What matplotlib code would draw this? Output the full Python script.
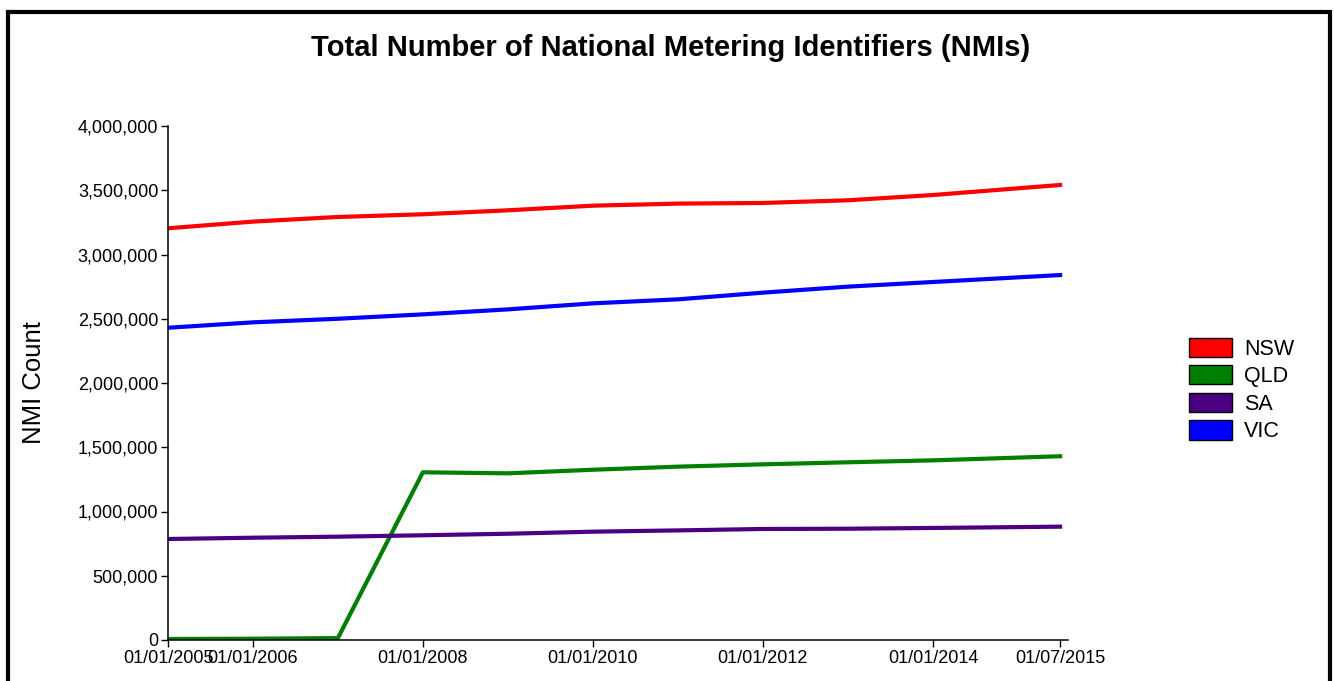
import pandas as pd
import matplotlib
matplotlib.use("Agg")
import matplotlib.pyplot as plt
import matplotlib.dates as mdates
from matplotlib.patches import Patch, Rectangle
from matplotlib.ticker import FuncFormatter

plt.rcParams['font.family'] = ['Liberation Sans', 'DejaVu Sans']

# --- DATA ---
dates = pd.to_datetime([
    "2005-01-01", "2006-01-01", "2007-01-01", "2008-01-01", "2009-01-01",
    "2010-01-01", "2011-01-01", "2012-01-01", "2013-01-01", "2014-01-01",
    "2015-07-01",
])
nsw = [3204000, 3256000, 3292000, 3313000, 3344000, 3380000,
       3396000, 3401000, 3422000, 3463000, 3541000]
qld = [8000, 10000, 15000, 1305000, 1297000, 1325000,
       1349000, 1367000, 1383000, 1398000, 1430000]
sa = [786000, 796000, 804000, 815000, 827000, 843000,
      853000, 864000, 866000, 872000, 882000]
vic = [2430000, 2472000, 2500000, 2534000, 2573000, 2620000,
       2651000, 2703000, 2750000, 2786000, 2840000]

series_names = ["NSW", "QLD", "SA", "VIC"]
series_values = [nsw, qld, sa, vic]
series_colors = ["#ff0000", "#008000", "#4b0082", "#0000ff"]

tick_dates = pd.to_datetime([
    "2005-01-01", "2006-01-01", "2008-01-01", "2010-01-01",
    "2012-01-01", "2014-01-01", "2015-07-01",
])

# --- FIGURE ---
W, H = 1334, 681
fig = plt.figure(figsize=(W / 100, H / 100), dpi=100)
ax = fig.add_axes([168 / W, (H - 640) / H, 900 / W, 514 / H])

for name, vals, col in zip(series_names, series_values, series_colors):
    ax.plot(dates, vals, color=col, linewidth=3, solid_joinstyle='round')

ax.set_ylim(0, 4000000)
ax.set_xlim(pd.Timestamp("2005-01-01"), pd.Timestamp("2015-08-04"))
ax.set_yticks(range(0, 4000001, 500000))
ax.yaxis.set_major_formatter(FuncFormatter(lambda v, p: f"{int(v):,}"))
ax.set_xticks(tick_dates)
ax.xaxis.set_major_formatter(mdates.DateFormatter("%d/%m/%Y"))

for side in ("top", "right"):
    ax.spines[side].set_visible(False)
for side in ("left", "bottom"):
    ax.spines[side].set_linewidth(1.1)
    ax.spines[side].set_color("black")
ax.tick_params(axis="both", direction="out", length=5, width=1,
               labelsize=13, pad=2, colors="black")

ax.set_ylabel("NMI Count", fontsize=18.5)
ax.yaxis.set_label_coords(-0.135, 0.5)

fig.text(0.503, (H - 48) / H, "Total Number of National Metering Identifiers (NMIs)",
         ha="center", va="center", fontsize=21, fontweight="bold")

handles = [Patch(facecolor=c, edgecolor="black", linewidth=1) for c in series_colors]
fig.legend(handles, series_names, loc="center left",
           bbox_to_anchor=(1170 / W, (H - 390) / H), frameon=False,
           fontsize=15.5, handlelength=2.0, handleheight=1.0,
           labelspacing=0.26, handletextpad=0.55)

# outer black frame (runs off the bottom edge)
fig.patches.append(Rectangle((8 / W, -0.1), (1322) / W, 1.1 - 12 / H,
                             transform=fig.transFigure, fill=False,
                             edgecolor="black", linewidth=3))

fig.savefig("out.png", dpi=100)
